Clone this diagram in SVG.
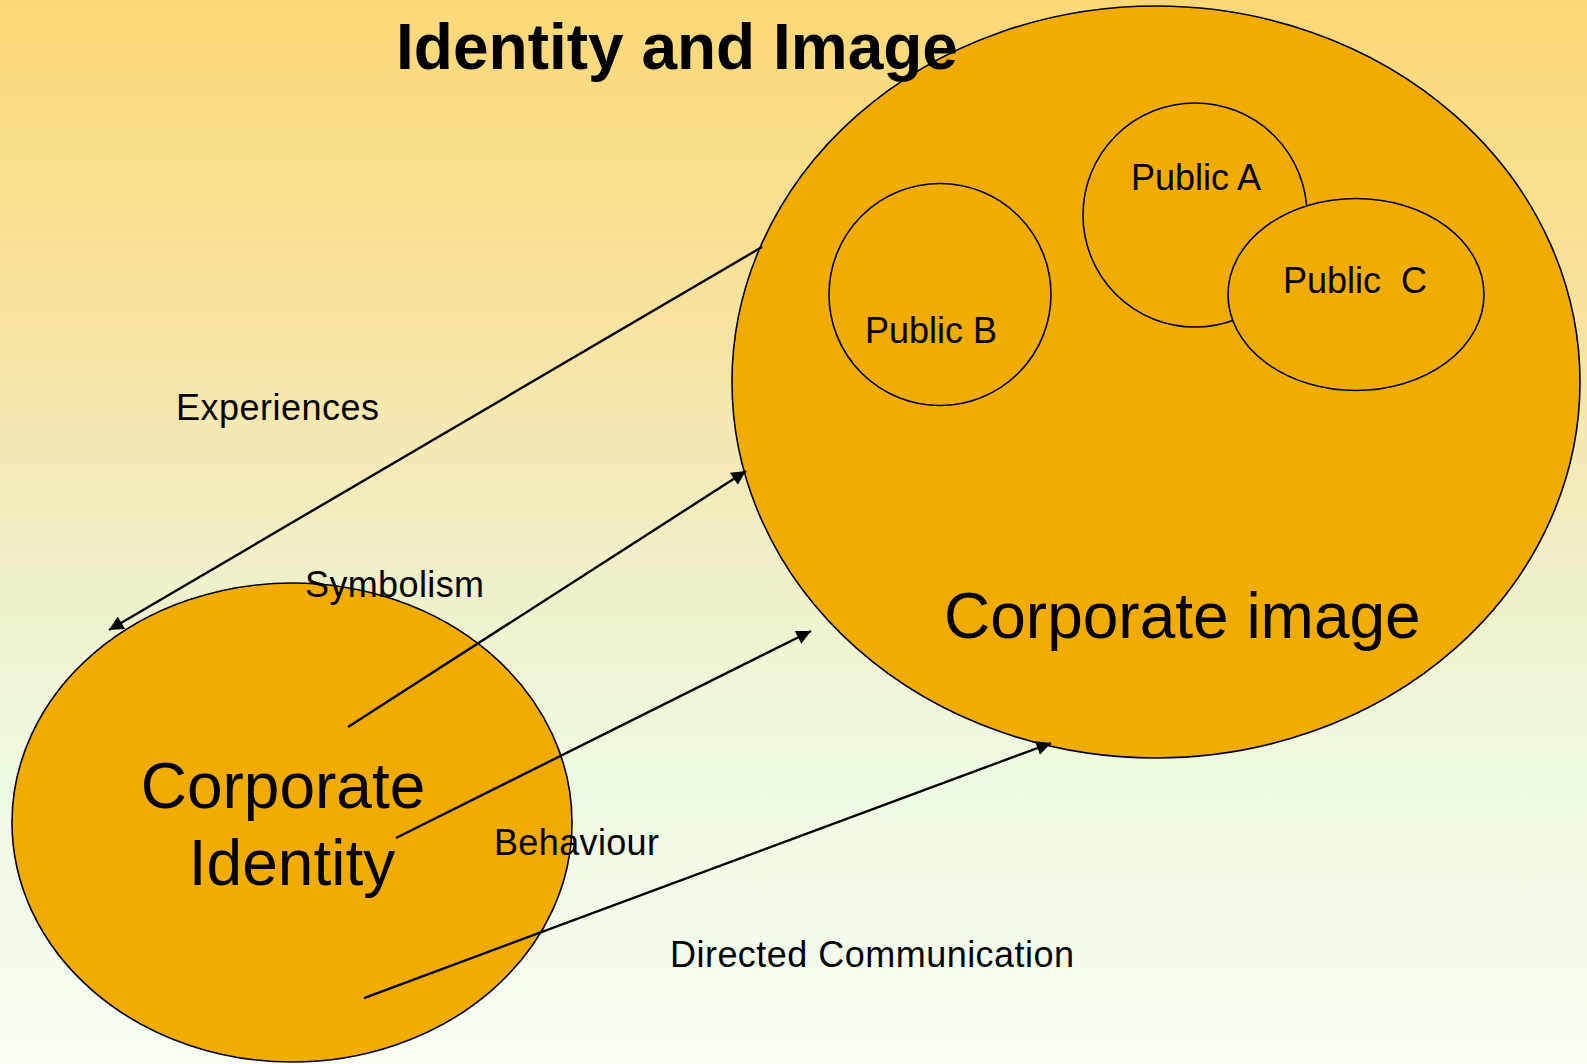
<svg xmlns="http://www.w3.org/2000/svg" width="1587" height="1064" viewBox="0 0 1587 1064">
  <defs>
    <linearGradient id="bg" x1="0" y1="0" x2="0" y2="1">
      <stop offset="0" stop-color="#FCD877"/>
      <stop offset="0.3" stop-color="#F6E39F"/>
      <stop offset="0.55" stop-color="#F0F1CB"/>
      <stop offset="0.72" stop-color="#EEF9E1"/>
      <stop offset="1" stop-color="#F7FEF3"/>
    </linearGradient>
    <marker id="arrow" viewBox="0 0 10 10" refX="10" refY="5" markerWidth="7" markerHeight="6" markerUnits="strokeWidth" orient="auto">
      <path d="M0,0 L10,5 L0,10 Z" fill="#000"/>
    </marker>
    <style>
      .shape { fill: #F0AC00; stroke: #000; stroke-width: 1.6; }
      .conn { stroke: #000; stroke-width: 2.4; fill: none; marker-end: url(#arrow); }
      .lbl { font-family: "Liberation Sans", Arial, sans-serif; font-size: 36px; fill: #000; }
      .big { font-family: "Liberation Sans", Arial, sans-serif; font-size: 64px; fill: #000; }
      .title { font-family: "Liberation Sans", Arial, sans-serif; font-size: 64px; font-weight: bold; fill: #000; }
    </style>
  </defs>

  <rect x="0" y="0" width="1587" height="1064" fill="url(#bg)"/>

  <!-- Corporate image with its publics -->
  <g id="corporate-image">
    <ellipse class="shape" cx="1156" cy="382" rx="424" ry="376"/>
    <text class="big" x="944" y="638">Corporate image</text>
  </g>
  <g id="public-b">
    <circle class="shape" cx="940" cy="294.5" r="111"/>
    <text class="lbl" x="931" y="343" text-anchor="middle">Public B</text>
  </g>
  <g id="public-a">
    <circle class="shape" cx="1195" cy="215" r="112"/>
    <text class="lbl" x="1196" y="190" text-anchor="middle">Public A</text>
  </g>
  <g id="public-c">
    <ellipse class="shape" cx="1356" cy="294.5" rx="128" ry="96"/>
    <text class="lbl" x="1355" y="293" text-anchor="middle" xml:space="preserve">Public  C</text>
  </g>

  <!-- Corporate identity -->
  <g id="corporate-identity">
    <ellipse class="shape" cx="292" cy="822.5" rx="280" ry="239.5"/>
    <text class="big" x="283" y="808" text-anchor="middle">Corporate</text>
    <text class="big" x="292" y="885" text-anchor="middle">Identity</text>
  </g>

  <!-- Title -->
  <g id="title">
    <text class="title" x="677" y="69" text-anchor="middle">Identity and Image</text>
  </g>

  <!-- Flows between identity and image -->
  <g id="connectors">
    <line class="conn" x1="762" y1="247" x2="109" y2="630"/>
    <line class="conn" x1="348" y1="727" x2="746" y2="471"/>
    <line class="conn" x1="396" y1="838" x2="811" y2="631"/>
    <line class="conn" x1="364" y1="998" x2="1051" y2="743"/>
  </g>

  <!-- Flow labels -->
  <g id="labels">
    <text class="lbl" x="176" y="420" textLength="203">Experiences</text>
    <text class="lbl" x="305" y="597" textLength="179">Symbolism</text>
    <text class="lbl" x="494" y="855" textLength="165">Behaviour</text>
    <text class="lbl" x="670" y="967" textLength="404">Directed Communication</text>
  </g>
</svg>
